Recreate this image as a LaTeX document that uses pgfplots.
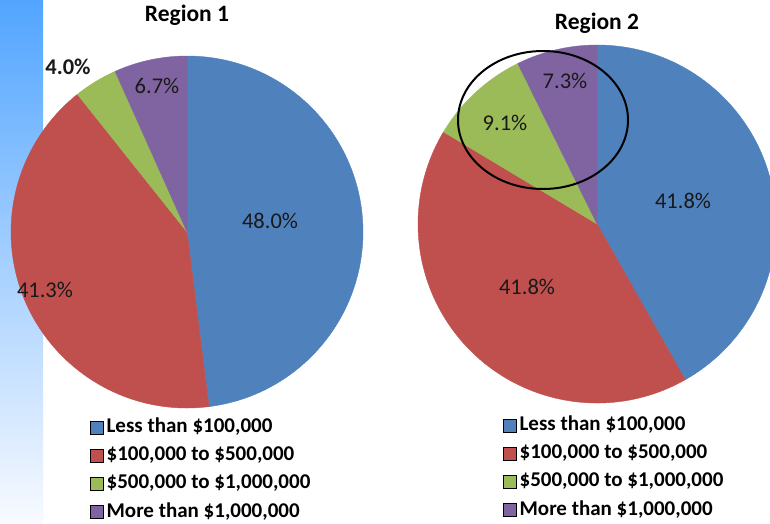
\documentclass[border=0pt]{standalone}
\usepackage{fontspec}
\setmainfont{Carlito}
\usepackage{pgfplots}
\usepackage{pgfplotstable}
\pgfplotsset{compat=1.18}
\pgfkeys{/pgf/number format/assume math mode=true}

\definecolor{pblue}{HTML}{4F81BD}
\definecolor{pred}{HTML}{C0504D}
\definecolor{pgreen}{HTML}{9BBB59}
\definecolor{ppurple}{HTML}{8064A2}

% share in percent, label position relative to the pie centre, bold flag
\pgfplotstableread{
share lx ly b
48.0 83 11 0
41.3 -142 -58 0
4.0 -119 165 1
6.7 -30 146 0
}\regionone
\pgfplotstableread{
share lx ly b
41.8 86 23 0
41.8 -70 -63 0
9.1 -92 101 0
7.3 -32 143 0
}\regiontwo

% #1 table, #2 radius (pt)
\newcommand\drawpie[2]{%
  \pgfplotsextra{%
    \gdef\cum{0}%
    \foreach \i/\col in {0/pblue,1/pred,2/pgreen,3/ppurple}{%
      \pgfplotstablegetelem{\i}{share}\of#1%
      \let\val\pgfplotsretval
      \pgfmathsetmacro\sa{90-3.6*\cum}%
      \pgfmathsetmacro\ea{90-3.6*(\cum+\val)}%
      \filldraw[\col, line width=0.4pt] (axis cs:0,0) -- ++(\sa:#2pt) arc[start angle=\sa, end angle=\ea, radius=#2pt] -- cycle;%
      \pgfmathsetmacro\c{\cum+\val}\xdef\cum{\c}%
    }%
    \foreach \i in {0,...,3}{%
      \pgfplotstablegetelem{\i}{share}\of#1\let\val\pgfplotsretval
      \pgfplotstablegetelem{\i}{lx}\of#1\let\lx\pgfplotsretval
      \pgfplotstablegetelem{\i}{ly}\of#1\let\ly\pgfplotsretval
      \pgfplotstablegetelem{\i}{b}\of#1\let\bb\pgfplotsretval
      \pgfmathtruncatemacro\bi{\bb}%
      \ifnum\bi=1 \def\wt{\bfseries}\else\def\wt{}\fi
      \node[font=\fontsize{22.5}{26}\selectfont\wt, text=black!90]
        at (axis cs:\lx,\ly) {\pgfmathprintnumber[fixed,fixed zerofill,precision=1]{\val}\%};%
    }%
  }%
}

\pgfplotsset{
  pie/.style={
    x=1pt, y=1pt, xmin=-200, xmax=200, ymin=-200, ymax=200,
    hide axis, clip=false, anchor=origin,
    legend image code/.code={\fill (0pt,-6.5pt) rectangle (13pt,6.5pt);},
    legend style={draw=none, fill=none, inner sep=0pt, row sep=8.3pt, column sep=1pt,
      font=\fontsize{21}{24}\selectfont\bfseries,
      nodes={inner sep=2pt, text height=13pt, text depth=3pt}, anchor=north west},
    legend cell align=left,
  },
}

\begin{document}
\begin{tikzpicture}
\path[use as bounding box, clip] (0,0) rectangle (770pt,523pt);
\shade[top color={rgb,255:red,82;green,165;blue,255},
       middle color={rgb,255:red,196;green,219;blue,255},
       bottom color={rgb,255:red,248;green,250;blue,255}]
  (0,0) rectangle (43pt,523pt);

\begin{axis}[pie, at={(187pt,291pt)}, legend style={at={(0.2575,0.0375)}}]
  \addlegendimage{fill=pblue}
  \addlegendimage{fill=pred}
  \addlegendimage{fill=pgreen}
  \addlegendimage{fill=ppurple}
  \legend{{Less than \$100,000}, {\$100,000 to \$500,000}, {\$500,000 to \$1,000,000}, {More than \$1,000,000}}
  \drawpie{\regionone}{176}
  \node[font=\fontsize{23.5}{26}\selectfont\bfseries] at (axis cs:0,217) {Region 1};
\end{axis}

\begin{axis}[pie, at={(597pt,299pt)}, legend style={at={(0.265,0.0225)}}]
  \addlegendimage{fill=pblue}
  \addlegendimage{fill=pred}
  \addlegendimage{fill=pgreen}
  \addlegendimage{fill=ppurple}
  \legend{{Less than \$100,000}, {\$100,000 to \$500,000}, {\$500,000 to \$1,000,000}, {More than \$1,000,000}}
  \drawpie{\regiontwo}{179}
  \node[font=\fontsize{23.5}{26}\selectfont\bfseries] at (axis cs:0,201) {Region 2};
  \draw[line width=2pt] (axis cs:-54,104) ellipse [x radius=85pt, y radius=69pt];
\end{axis}
\end{tikzpicture}
\end{document}
